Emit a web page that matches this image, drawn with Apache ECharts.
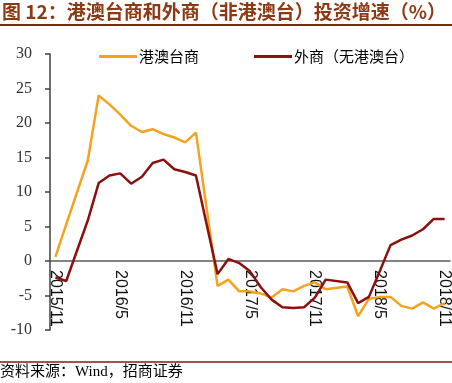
<!DOCTYPE html>
<html>
<head>
<meta charset="utf-8">
<script src="https://cdn.jsdelivr.net/npm/echarts@6/dist/echarts.min.js"></script>
<style>
html,body{margin:0;padding:0;background:#fff;}
#c{width:452px;height:383px;}
</style>
</head>
<body>
<div id="c"></div>
<script>
var titleText = '图 12：港澳台商和外商（非港澳台）投资增速（%）';
var sourceText = '资料来源：Wind，招商证券';
var seriesNames = ['港澳台商', '外商（无港澳台）'];
var categories = [
  '2015/11','2015/12',
  '2016/1','2016/2','2016/3','2016/4','2016/5','2016/6','2016/7','2016/8','2016/9','2016/10','2016/11','2016/12',
  '2017/1','2017/2','2017/3','2017/4','2017/5','2017/6','2017/7','2017/8','2017/9','2017/10','2017/11','2017/12',
  '2018/1','2018/2','2018/3','2018/4','2018/5','2018/6','2018/7','2018/8','2018/9','2018/10','2018/11'
];
var hkMacauTaiwan = [
  0.6, 5.3,
  null, 14.6, 24.0, 22.7, 21.2, 19.6, 18.7, 19.1, 18.4, 17.9, 17.2, 18.6,
  null, -3.6, -2.7, -4.4, -4.4, -4.7, -5.3, -4.1, -4.4, -3.6, -3.1, -4.1,
  null, -3.7, -8.0, -5.5, -5.2, -5.2, -6.5, -6.9, -6.0, -6.9, -6.1
];
var foreignExHMT = [
  -2.4, -2.9,
  null, 5.9, 11.3, 12.4, 12.7, 11.2, 12.2, 14.2, 14.7, 13.3, 12.9, 12.4,
  null, -1.9, 0.3, -0.3, -1.5, -3.8, -5.6, -6.7, -6.8, -6.7, -5.3, -2.7,
  null, -3.1, -6.1, -5.2, -1.5, 2.3, 3.1, 3.7, 4.6, 6.1, 6.1
];
var yMin = -10, yMax = 30, yStep = 5;

var W = 452, H = 383;
var gridTop = 54, gridBottom = 53;
var plotH = H - gridTop - gridBottom;
// place the category axis (line + labels) at value 0
var zeroOffset = -((0 - yMin) / (yMax - yMin)) * plotH;

var chart = echarts.init(document.getElementById('c'), null, {renderer: 'canvas'});
var cjk = "'Noto Sans CJK SC', sans-serif";
chart.setOption({
  animation: false,
  backgroundColor: '#fff',
  color: ['#F5A21F', '#8B1010'],
  grid: {left: 50, right: 2, top: gridTop, bottom: gridBottom, containLabel: false, outerBoundsMode: 'none'},
  legend: {
    data: seriesNames,
    left: 99, top: 49, padding: 0,
    itemWidth: 38, itemHeight: 3, itemGap: 55,
    icon: 'rect',
    textStyle: {fontFamily: cjk, fontSize: 15, color: '#000', padding: [0,0,0,-3]}
  },
  graphic: [
    {type: 'text', left: 2, top: 2, style: {text: titleText, font: "bold 19px 'Noto Sans CJK SC'", fill: '#8B3A14'}},
    {type: 'line', shape: {x1: 0, y1: 25, x2: 452, y2: 25}, style: {stroke: '#7A2A10', lineWidth: 2}},
    {type: 'line', shape: {x1: 0, y1: 362, x2: 452, y2: 362}, style: {stroke: '#7A1C1C', lineWidth: 1.5}},
    {type: 'text', left: 0, top: 365, style: {text: sourceText, font: "15px 'Liberation Serif', 'Noto Sans CJK SC'", fill: '#000'}}
  ],
  xAxis: {
    type: 'category',
    data: categories,
    boundaryGap: true,
    position: 'bottom',
    offset: zeroOffset,
    axisLine: {onZero: false, lineStyle: {color: '#5a5a5a', width: 1.5}},
    axisTick: {show: false},
    axisLabel: {interval: 5, rotate: -90, margin: 9, fontSize: 16, fontFamily: "'Liberation Sans', Arial", color: '#111'},
    splitLine: {show: false}
  },
  yAxis: {
    type: 'value',
    min: yMin, max: yMax, interval: yStep,
    axisLine: {show: true, onZero: false, lineStyle: {color: '#404040', width: 1.5}},
    axisTick: {show: true, length: 5, lineStyle: {color: '#404040', width: 1.5}},
    axisLabel: {margin: 18, fontSize: 16, fontFamily: "'Liberation Serif', serif", color: '#333'},
    splitLine: {show: false}
  },
  series: [
    {name: seriesNames[0], type: 'line', data: hkMacauTaiwan, symbol: 'none', connectNulls: true,
     lineStyle: {width: 2.5, color: '#F5A21F'}, itemStyle: {color: '#F5A21F'}},
    {name: seriesNames[1], type: 'line', data: foreignExHMT, symbol: 'none', connectNulls: true,
     lineStyle: {width: 2.5, color: '#8B1010'}, itemStyle: {color: '#8B1010'}}
  ]
});
</script>
</body>
</html>
